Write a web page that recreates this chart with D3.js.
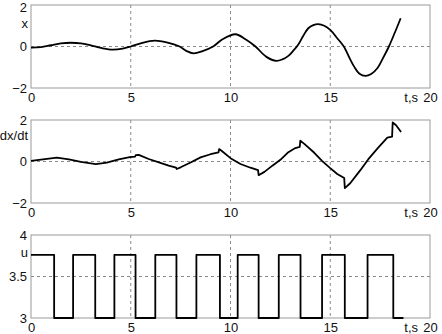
<!DOCTYPE html>
<html>
<head>
<meta charset="utf-8">
<script src="https://cdn.jsdelivr.net/npm/d3@7"></script>
<style>
  body { margin: 0; background: #fff; }
  text { font-family: "Liberation Sans", Arial, sans-serif; font-size: 13px; fill: #111; }
</style>
</head>
<body>
<div id="chart"></div>
<script>
// x(t)
var xTime   = [0, 0.5, 1.0, 1.5, 2.0, 2.5, 3.0, 3.3, 3.6, 4.1, 4.6, 5.0, 5.5, 6.2, 6.8, 7.45, 7.8, 8.15, 8.6, 9.13, 9.6, 10.25, 10.75, 11.25, 11.8, 12.3, 12.6, 12.9, 13.15, 13.4, 13.65, 13.9, 14.15, 14.4, 14.7, 15.0, 15.35, 15.68, 16.0, 16.2, 16.45, 16.77, 17.05, 17.36, 17.65, 17.94, 18.25, 18.53];
var xValues = [-0.05, -0.03, 0.06, 0.15, 0.18, 0.15, 0.05, -0.02, -0.09, -0.15, -0.1, 0.0, 0.15, 0.28, 0.2, 0.0, -0.22, -0.33, -0.22, 0.0, 0.35, 0.59, 0.35, 0.0, -0.5, -0.69, -0.62, -0.45, -0.2, 0.1, 0.52, 0.88, 1.03, 1.08, 1.0, 0.8, 0.4, 0.0, -0.62, -0.97, -1.3, -1.42, -1.33, -1.05, -0.55, 0.0, 0.7, 1.36];

// dx/dt
var vTime   = [0, 0.6, 1.3, 1.9, 2.5, 3.25, 3.8, 4.4, 4.95, 5.22, 5.25, 5.4, 5.9, 6.45, 6.9, 7.27, 7.3, 7.5, 8.0, 8.5, 9.0, 9.4, 9.43, 9.55, 10.0, 10.5, 11.0, 11.38, 11.41, 11.7, 12.1, 12.5, 12.9, 13.25, 13.47, 13.5, 13.7, 14.2, 14.6, 15.0, 15.35, 15.7, 15.73, 16.0, 16.5, 16.9, 17.35, 17.86, 18.1, 18.13, 18.3, 18.55];
var vValues = [0.03, 0.1, 0.19, 0.1, -0.02, -0.13, -0.05, 0.1, 0.21, 0.24, 0.31, 0.32, 0.12, -0.05, -0.2, -0.3, -0.36, -0.28, -0.05, 0.2, 0.35, 0.44, 0.6, 0.52, 0.16, -0.12, -0.3, -0.42, -0.66, -0.5, -0.2, 0.08, 0.45, 0.65, 0.7, 1.0, 0.85, 0.42, 0.02, -0.32, -0.6, -0.8, -1.28, -1.05, -0.43, 0.1, 0.61, 1.15, 1.2, 1.88, 1.75, 1.42];

// u(t), step signal
var uTime   = [0, 1.16, 2.11, 3.22, 4.18, 5.24, 6.23, 7.29, 8.29, 9.47, 10.36, 11.41, 12.42, 13.51, 14.59, 15.73, 16.87, 18.16, 18.67];
var uValues = [3.76, 3, 3.76, 3, 3.76, 3, 3.76, 3, 3.76, 3, 3.76, 3, 3.76, 3, 3.76, 3, 3.76, 3, 3];

var timeTicks = [0, 5, 10, 15, 20];
var timeGrid = [5, 10, 15];

var W = 442, H = 334;
var svg = d3.select("#chart").append("svg")
            .attr("width", W)
            .attr("height", H);

var xScale = d3.scaleLinear().domain([0, 20]).range([31, 430]);

function zip(ts, vs) {
    return ts.map(function(t, i) { return { t: t, v: vs[i] }; });
}

function drawPanel(p) {
    var yScale = d3.scaleLinear().domain(p.domain).range([p.bottom, p.top]);
    var g = svg.append("g");

    // grid
    g.selectAll(".vgrid").data(timeGrid).enter().append("line")
     .attr("x1", function(d) { return xScale(d); })
     .attr("x2", function(d) { return xScale(d); })
     .attr("y1", p.top).attr("y2", p.bottom)
     .style("stroke", "#8a8a8a").style("stroke-width", 1)
     .style("stroke-dasharray", "3,3");
    g.append("line")
     .attr("x1", xScale(0)).attr("x2", xScale(20))
     .attr("y1", yScale(p.grid)).attr("y2", yScale(p.grid))
     .style("stroke", "#8a8a8a").style("stroke-width", 1)
     .style("stroke-dasharray", "3,3");

    // box
    g.append("rect")
     .attr("x", xScale(0)).attr("y", p.top)
     .attr("width", xScale(20) - xScale(0))
     .attr("height", p.bottom - p.top)
     .style("fill", "none").style("stroke", "#9a9a9a").style("stroke-width", 1);

    // axes (labels only)
    var xa = g.append("g")
              .attr("transform", "translate(0," + p.bottom + ")")
              .call(d3.axisBottom(xScale).tickValues(timeTicks).tickSize(0).tickPadding(5).tickFormat(d3.format("d")));
    var ya = g.append("g")
              .attr("transform", "translate(" + xScale(0) + ",0)")
              .call(d3.axisLeft(yScale).tickValues(p.ticks).tickSize(0).tickPadding(4).tickFormat(p.format));
    [xa, ya].forEach(function(a) {
        a.select(".domain").remove();
        a.attr("font-family", null).attr("font-size", null);
    });
    // keep the top label of the first panel inside the page
    if (p.top < 8) {
        ya.selectAll(".tick text").filter(function(d) { return d === p.domain[1]; })
          .attr("dy", "0.5em");
    }

    g.append("text")
     .attr("x", 418).attr("y", p.bottom + 5)
     .attr("dy", "0.71em")
     .attr("text-anchor", "end")
     .text("t,s");

    g.append("text")
     .attr("x", 28).attr("y", p.top + p.labelDy)
     .attr("dy", "0.35em")
     .attr("text-anchor", "end")
     .text(p.label);

    // data line
    var line = d3.line()
                 .x(function(d) { return xScale(d.t); })
                 .y(function(d) { return yScale(d.v); })
                 .curve(p.curve);
    g.append("path")
     .datum(p.data)
     .attr("d", line)
     .style("fill", "none")
     .style("stroke", "#000")
     .style("stroke-width", 1.8)
     .style("stroke-linejoin", "round");
}

drawPanel({ top: 5, bottom: 88, domain: [-2, 2], ticks: [-2, 0, 2], grid: 0,
            format: d3.format("d"), label: "x", labelDy: 18,
            data: zip(xTime, xValues), curve: d3.curveCatmullRom });
drawPanel({ top: 120, bottom: 203, domain: [-2, 2], ticks: [-2, 0, 2], grid: 0,
            format: d3.format("d"), label: "dx/dt", labelDy: 15,
            data: zip(vTime, vValues), curve: d3.curveLinear });
drawPanel({ top: 235, bottom: 318, domain: [3, 4], ticks: [3, 3.5, 4], grid: 3.5,
            format: function(d) { return d === 3.5 ? "3.5" : String(d); }, label: "u", labelDy: 17,
            data: zip(uTime, uValues), curve: d3.curveStepAfter });
</script>
</body>
</html>
